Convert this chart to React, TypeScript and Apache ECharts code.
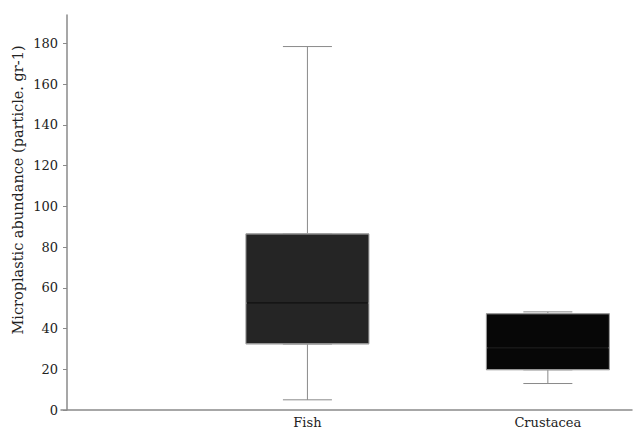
import React, { useEffect, useRef } from "react";
import * as echarts from "echarts";

const categories = ["Fish", "Crustacea"];
const positions = [1, 2];
const mins = [5, 13];
const q1s = [32.5, 19.8];
const medians = [52.5, 30.5];
const q3s = [86.5, 47.3];
const maxs = [178.5, 48.2];
const fills = ["#252525", "#070707"];
const yTicks = [0, 20, 40, 60, 80, 100, 120, 140, 160, 180];
const yTitle = "Microplastic abundance (particle. gr-1)";

const FONT = "DejaVu Serif";

export default function App() {
  const ref = useRef<HTMLDivElement>(null);
  useEffect(() => {
    if (!ref.current) return;
    const chart = echarts.init(ref.current, null, { renderer: "svg" });
    const xBase = {
      type: "value" as const,
      min: -0.025,
      max: 2.35,
      gridIndex: 0,
      splitLine: { show: false },
    };
    const whiskerData = positions.map((p, i) => [p, mins[i], q1s[i], q1s[i], q3s[i], maxs[i]]);
    const boxData = positions.map((p, i) => ({
      value: [p, q1s[i], q1s[i], medians[i], q3s[i], q3s[i]],
      itemStyle: { color: fills[i] },
    }));
    const medianData = positions.map((p, i) => [p, medians[i], medians[i], medians[i], medians[i], medians[i]]);
    chart.setOption({
      animation: false,
      grid: { left: 61, right: 3, top: 15, bottom: 19 },
      xAxis: [
        {
          ...xBase,
          axisLine: { show: true, lineStyle: { color: "#8a8a8a", width: 1.5 } },
          axisTick: { show: false },
          axisLabel: {
            customValues: positions,
            formatter: (v: number) => {
              const idx = positions.indexOf(Math.round(v * 1000) / 1000);
              return idx >= 0 ? categories[idx] : "";
            },
            fontFamily: FONT,
            fontSize: 13,
            color: "#222",
            margin: 6,
          },
        },
        { ...xBase, show: false },
        { ...xBase, show: false },
      ],
      yAxis: {
        type: "value",
        min: 0,
        max: 194,
        interval: 20,
        splitLine: { show: false },
        axisLine: { show: true, lineStyle: { color: "#8a8a8a", width: 1.5 } },
        axisTick: {
          show: true,
          length: 4,
          customValues: yTicks,
          lineStyle: { color: "#8a8a8a" },
        },
        axisLabel: {
          customValues: yTicks,
          fontFamily: FONT,
          fontSize: 13,
          color: "#222",
          margin: 3,
        },
      },
      graphic: [
        {
          type: "text",
          x: 18,
          y: 190,
          rotation: Math.PI / 2,
          style: {
            text: yTitle,
            fontFamily: FONT,
            fontSize: 14.5,
            fill: "#222",
            align: "center",
            verticalAlign: "middle",
          },
        },
      ],
      series: [
        {
          type: "boxplot",
          xAxisIndex: 0,
          boxWidth: [49, 49],
          data: whiskerData,
          itemStyle: { color: "#fff", borderColor: "#8a8a8a", borderWidth: 1 },
          z: 2,
        },
        {
          type: "boxplot",
          xAxisIndex: 1,
          boxWidth: [123, 123],
          data: boxData,
          itemStyle: { borderColor: "#9a9a9a", borderWidth: 1 },
          z: 3,
        },
        {
          type: "boxplot",
          xAxisIndex: 2,
          boxWidth: [121, 121],
          data: medianData,
          itemStyle: { color: "#000", borderColor: "#000", borderWidth: 1.5 },
          z: 4,
        },
      ],
    });
    return () => chart.dispose();
  }, []);
  return <div ref={ref} style={{ width: 635, height: 429, position: "absolute", left: 0, top: 0 }} />;
}
